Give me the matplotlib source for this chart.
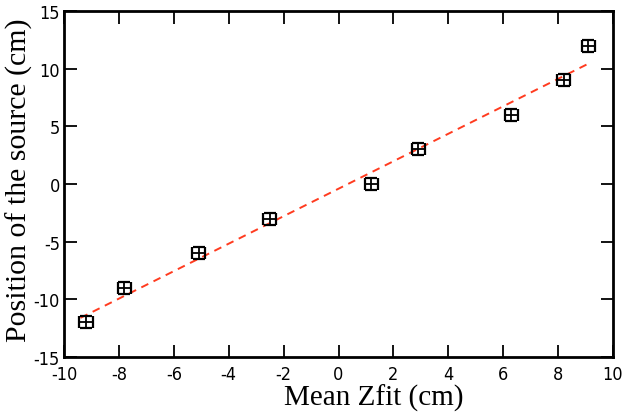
import numpy as np
import matplotlib
matplotlib.use("Agg")
from matplotlib import pyplot as plt

# measured mean Zfit against the known source position
mean_zfit = [-9.2, -7.8, -5.1, -2.5, 1.2, 2.9, 6.3, 8.2, 9.1]
source_pos = [-12, -9, -6, -3, 0, 3, 6, 9, 12]
zfit_err = [0.24] * 9
pos_err = [0.52] * 9
fit_range = [-9.4, 9.2]

xticks = [-10, -8, -6, -4, -2, 0, 2, 4, 6, 8, 10]
yticks = [-15, -10, -5, 0, 5, 10, 15]

fig = plt.figure(figsize=(6.22, 4.14), dpi=100)
ax = fig.add_axes([64 / 622, 1 - 358 / 414, 549 / 622, 346 / 414])

# straight line fit to the points
slope, icpt = np.polyfit(mean_zfit, source_pos, 1)
xf = np.linspace(fit_range[0], fit_range[1], 2)
ax.plot(xf, slope * xf + icpt, color="#ff3b1f", lw=1.4, ls=(0, (4, 3)))

ax.errorbar(mean_zfit, source_pos, xerr=zfit_err, yerr=pos_err,
            fmt="none", ecolor="black", elinewidth=1.3, capsize=4.6, capthick=1.6)

ax.set_xlim(-10, 10)
ax.set_ylim(-15, 15)
ax.set_xticks(xticks)
ax.set_yticks(yticks)

tick_kw = dict(family="DejaVu Sans", stretch="condensed", fontsize=13)
ax.set_xticklabels([str(t) for t in xticks], **tick_kw)
ax.set_yticklabels([str(t) for t in yticks], **tick_kw)
ax.tick_params(direction="in", length=9, width=1.3, top=True, right=True)
ax.tick_params(axis="x", pad=6)
ax.tick_params(axis="y", pad=3)
for s in ax.spines.values():
    s.set_linewidth(2)

fig.text(374 / 622, 1 - 398 / 414, "Mean Zfit (cm)", family="Liberation Serif",
         fontsize=21, ha="center", va="center")
fig.text(19 / 622, 1 - 180 / 414, "Position of the source (cm)", family="Liberation Serif",
         fontsize=21.5, ha="center", va="center", rotation=90)

fig.savefig("out.png", dpi=100)
